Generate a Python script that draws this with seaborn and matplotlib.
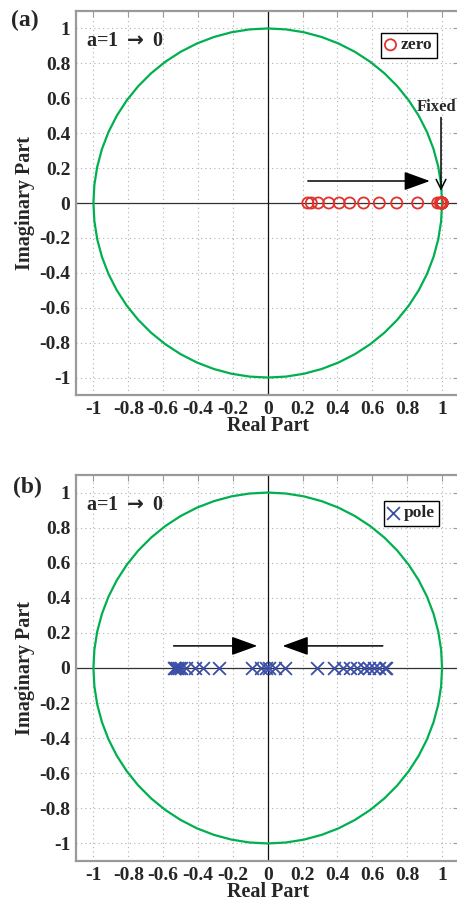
import numpy as np
import pandas as pd
import matplotlib
matplotlib.use("Agg")
import matplotlib.pyplot as plt
import seaborn as sns

# ---- data ----
zero_real = [0.23, 0.25, 0.29, 0.35, 0.41, 0.47, 0.55, 0.64, 0.74, 0.86,
             0.975, 0.99, 1.0, 1.0, 1.0, 1.0, 1.0, 1.0, 1.0, 1.0, 1.0]
zero_imag = [0.0] * len(zero_real)

pole_real = [-0.54, -0.53, -0.52, -0.51, -0.50, -0.47, -0.42, -0.37, -0.28,
             -0.09, -0.04, -0.01, 0.01, 0.04, 0.10,
             0.28, 0.38, 0.43, 0.47, 0.51, 0.55, 0.58, 0.61, 0.64, 0.67, 0.68]
pole_imag = [0.0] * len(pole_real)

tick_vals = [-1, -0.8, -0.6, -0.4, -0.2, 0, 0.2, 0.4, 0.6, 0.8, 1]
tick_labels = ["-1", "-0.8", "-0.6", "-0.4", "-0.2", "0", "0.2", "0.4", "0.6", "0.8", "1"]

sns.set_theme(style="white")
plt.rcParams['font.family'] = ['Liberation Serif', 'DejaVu Serif']
plt.rcParams['font.weight'] = 'bold'
plt.rcParams['axes.labelweight'] = 'bold'

GREEN = "#00b04f"
RED = "#e2322b"
BLUE = "#3a4ea8"
SPINE = "#9a9a9a"

fig = plt.figure(figsize=(4.57, 9.02), dpi=100)
W, H = 457.0, 902.0
ax_a = fig.add_axes([76 / W, 1 - 395 / H, 383.5 / W, 384 / H])
ax_b = fig.add_axes([76 / W, 1 - 861 / H, 383.5 / W, 386 / H])

theta = np.linspace(0, 2 * np.pi, 61)
circ = pd.DataFrame({"x": np.cos(theta), "y": np.sin(theta), "o": np.arange(61)})


def style_axes(ax):
    ax.set_xlim(-1.1, 1.1)
    ax.set_ylim(-1.1, 1.1)
    ax.set_xticks(tick_vals)
    ax.set_xticklabels(tick_labels)
    ax.set_yticks(tick_vals)
    ax.set_yticklabels(tick_labels)
    ax.grid(True, linestyle=(0, (1, 3)), color="#b0b0b0", linewidth=0.8)
    for s in ax.spines.values():
        s.set_color(SPINE)
        s.set_linewidth(1.6)
    ax.tick_params(direction="in", length=4, width=0.8, color=SPINE,
                   top=True, right=True, labelsize=14, pad=4)
    for lab in ax.get_xticklabels() + ax.get_yticklabels():
        lab.set_fontweight("bold")
    ax.axhline(0, color="#333333", linewidth=0.9, zorder=1)
    ax.axvline(0, color="#111111", linewidth=0.9, zorder=1)
    ax.set_xlabel("Real Part", fontsize=14.5, fontweight="bold", labelpad=-1)
    ax.set_ylabel("Imaginary Part", fontsize=14.5, fontweight="bold", labelpad=3)
    ax.set_axisbelow(True)


for ax in (ax_a, ax_b):
    sns.lineplot(data=circ, x="x", y="y", sort=False, estimator=None,
                 color=GREEN, linewidth=1.6, ax=ax, zorder=2)

# zeros
zdf = pd.DataFrame({"re": zero_real, "im": zero_imag})
sns.scatterplot(data=zdf, x="re", y="im", ax=ax_a, marker="o", s=64,
                facecolors="none", edgecolor=RED, linewidth=1.3,
                label="zero", zorder=3)
# poles
pdf = pd.DataFrame({"re": pole_real, "im": pole_imag})
sns.scatterplot(data=pdf, x="re", y="im", ax=ax_b, marker="x", s=85,
                color=BLUE, linewidth=1.3, label="pole", zorder=3)

style_axes(ax_a)
style_axes(ax_b)

big_head = dict(arrowstyle="-|>,head_length=1.6,head_width=0.58",
                mutation_scale=10, color="black", linewidth=1.1,
                shrinkA=0, shrinkB=0)
ax_a.annotate("", xy=(0.93, 0.126), xytext=(0.23, 0.126), arrowprops=big_head)
ax_a.text(0.97, 0.55, "Fixed", ha="center", va="center", fontsize=12,
          fontweight="bold")
ax_a.annotate("", xy=(0.994, 0.07), xytext=(0.994, 0.49),
              arrowprops=dict(arrowstyle="->,head_length=0.7,head_width=0.35",
                              mutation_scale=10, color="black", linewidth=1.1,
                              shrinkA=0, shrinkB=0))
ax_b.annotate("", xy=(-0.06, 0.126), xytext=(-0.54, 0.126), arrowprops=big_head)
ax_b.annotate("", xy=(0.085, 0.126), xytext=(0.66, 0.126), arrowprops=big_head)

for ax in (ax_a, ax_b):
    ax.text(-1.04, 0.93, r"a=1 $\rightarrow$ 0", fontsize=14.5, fontweight="bold",
            ha="left", va="center")

leg_kw = dict(frameon=True, fancybox=False, edgecolor="black", framealpha=1,
              handlelength=0.6, handletextpad=0.3, borderpad=0.25,
              borderaxespad=0, prop={"weight": "bold", "size": 12.5})
la = ax_a.legend(loc="upper right", bbox_to_anchor=(0.941, 0.943), **leg_kw)
lb = ax_b.legend(loc="upper right", bbox_to_anchor=(0.947, 0.933), **leg_kw)
for lg in (la, lb):
    lg.get_frame().set_linewidth(1.0)

fig.text(25 / W, 1 - 20 / H, "(a)", fontsize=17, fontweight="bold", ha="center", va="center")
fig.text(27 / W, 1 - 487 / H, "(b)", fontsize=17, fontweight="bold", ha="center", va="center")

fig.savefig("out.png", dpi=100)
